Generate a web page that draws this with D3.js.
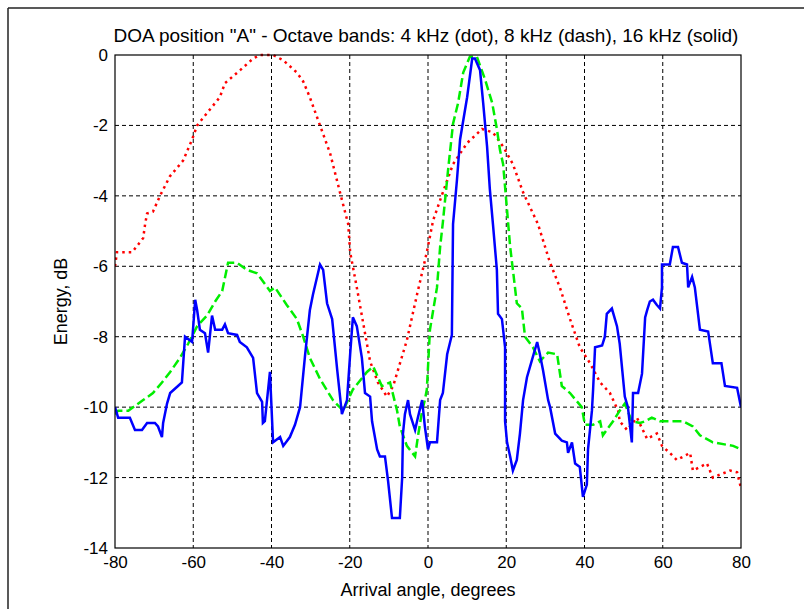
<!DOCTYPE html>
<html>
<head>
<meta charset="utf-8">
<script src="https://cdn.jsdelivr.net/npm/d3@7"></script>
<style>
  html, body { margin: 0; padding: 0; background: #fff; }
  svg { display: block; }
  text { font-family: "Liberation Sans", Arial, sans-serif; fill: #000; }
</style>
</head>
<body>
<svg id="chart" width="804" height="609"></svg>
<script>
// ---- Data ----
const title = 'DOA position "A" - Octave bands: 4 kHz (dot), 8 kHz (dash), 16 kHz (solid)';
const xLabel = "Arrival angle, degrees";
const yLabel = "Energy, dB";
const xTicks = [-80, -60, -40, -20, 0, 20, 40, 60, 80];
const yTicks = [0, -2, -4, -6, -8, -10, -12, -14];

// 4 kHz (dotted, red)
const angle4k = [-80, -79.5, -75.6, -72.8, -72.3, -71.8, -70.3, -68.5, -66, -62.6, -60.3, -59, -56.5, -53.2, -51.9, -48, -44.7, -42.9, -39.6, -37, -33.5, -31.9, -30.2, -27.6, -25, -22.5, -20.4, -19.9, -18.2, -16.1, -14.8, -12.8, -10.5, -8.9, -5.4, -2.8, -0.3, 1.3, 3.8, 6.4, 10, 13.8, 16.6, 19.2, 21.7, 24.3, 28.1, 31.2, 33.7, 36.3, 38.8, 41.4, 44, 46.5, 48.6, 49, 50.9, 53.4, 56, 58.5, 59.8, 61.8, 63.6, 67, 67.7, 71.3, 72.8, 77.2, 79, 80];
const energy4k = [-6.0, -5.6, -5.6, -5.2, -4.8, -4.5, -4.45, -4.0, -3.45, -3.0, -2.4, -2.0, -1.65, -1.2, -0.8, -0.43, -0.1, 0, 0, -0.15, -0.5, -0.75, -1.2, -2.0, -2.8, -3.9, -4.8, -5.6, -6.6, -7.9, -8.7, -9.3, -9.7, -9.4, -8.1, -6.8, -5.6, -4.7, -3.9, -3.1, -2.5, -2.1, -2.2, -2.6, -3.1, -3.9, -4.8, -5.9, -6.6, -7.5, -8.3, -8.75, -9.3, -9.6, -10.1, -10.4, -10.65, -10.3, -10.9, -10.75, -11.1, -11.3, -11.5, -11.3, -11.8, -11.6, -12.0, -11.8, -11.85, -12.3];

// 8 kHz (dashed, green)
const angle8k = [-80, -79.2, -76.6, -72.8, -70.3, -68, -65.9, -63.4, -61.3, -59, -56.5, -54.4, -52.6, -51.1, -48.8, -46.3, -43.7, -40.4, -39.1, -36.1, -33.5, -31.9, -30.2, -27.6, -24.3, -21.7, -19.2, -15.6, -14, -11.8, -9.7, -7.9, -7.2, -5.4, -3.3, -2.6, -1.5, -0.8, -0.3, 0.5, 2.3, 3.1, 3.8, 5.1, 6.4, 7.7, 9, 10.7, 12.5, 14.6, 16.4, 17.6, 18.4, 19.2, 20.2, 21, 21.7, 22.7, 24, 24.8, 26.8, 28.6, 30.7, 33, 34.2, 36.3, 39.3, 40.1, 42.2, 44, 44.7, 47.3, 49, 50.3, 52.1, 54.2, 55.5, 57.2, 59.3, 61.8, 65.2, 67.7, 69.5, 72.8, 78, 80];
const energy8k = [-10.2, -10.1, -10.1, -9.8, -9.6, -9.3, -9.0, -8.6, -8.2, -7.7, -7.4, -7.0, -6.7, -5.9, -5.9, -6.1, -6.2, -6.7, -6.6, -7.1, -7.5, -8.0, -8.6, -9.2, -9.8, -10.1, -9.5, -9.0, -8.85, -9.4, -9.3, -10.1, -10.55, -11.1, -11.4, -10.85, -10.1, -9.8, -9.5, -7.8, -6.6, -5.45, -4.75, -3.3, -1.95, -1.36, -0.5, -0.05, -0.05, -0.7, -1.36, -2.1, -2.7, -3.1, -4.4, -5.45, -6.1, -7.05, -7.2, -8.0, -8.3, -8.7, -8.45, -8.5, -9.4, -9.6, -10.0, -10.5, -10.5, -10.4, -10.8, -10.4, -10.1, -9.9, -10.4, -10.45, -10.4, -10.3, -10.4, -10.4, -10.4, -10.55, -10.8, -11.0, -11.1, -11.2];

// 16 kHz (solid, blue)
const angle16k = [-80, -79.2, -76.2, -74.9, -73.1, -71.8, -69.8, -69, -68, -67.7, -66.7, -65.9, -63.9, -62.9, -62.1, -60.3, -59.5, -59, -58.3, -57, -56.2, -55.2, -54.4, -52.6, -51.9, -51.1, -48.8, -48.1, -46.3, -44.7, -43.7, -42.4, -42.2, -41.7, -40.4, -39.6, -37.8, -37, -35.3, -34, -32.7, -31.4, -30.2, -29.4, -27.6, -26.8, -25.8, -24.5, -23.2, -22, -20.7, -19.9, -19.2, -18.2, -16.9, -16.1, -14.8, -14.3, -13, -12.3, -11, -10.2, -9.2, -7.2, -6.6, -6.4, -5.9, -5.1, -4.6, -3.3, -2.6, -1.5, -0.8, 0, 0.5, 2.3, 3.1, 3.8, 4.9, 6.1, 6.4, 7.4, 8.2, 10, 11.3, 12, 13.3, 14.1, 15.1, 15.8, 16.6, 17.6, 17.9, 18.9, 19.7, 19.7, 20.2, 21, 21.7, 22.7, 23.5, 24.3, 25.3, 26.6, 27.9, 28.6, 29.4, 30.7, 31.2, 32.5, 34.2, 35.5, 35.8, 36.8, 37.6, 38.8, 39.6, 40.6, 40.9, 41.9, 42.2, 42.7, 44.5, 45.2, 45.7, 47, 48.3, 49, 50.3, 51.1, 52.1, 52.4, 53.7, 54.7, 55.5, 56, 56.7, 57.5, 58.5, 59.3, 59.8, 59.8, 61.8, 62.6, 63.9, 64.9, 66.2, 66.5, 67.5, 68.2, 69.5, 71.6, 72.8, 75, 75.9, 79, 80];
const energy16k = [-10.0, -10.3, -10.3, -10.65, -10.65, -10.45, -10.45, -10.55, -10.85, -10.45, -9.9, -9.6, -9.4, -9.3, -8.0, -8.15, -6.95, -7.25, -7.8, -7.9, -8.45, -7.4, -7.8, -7.8, -7.65, -7.9, -7.95, -8.15, -8.3, -8.6, -9.6, -9.85, -10.45, -10.4, -9.0, -11.0, -10.85, -11.1, -10.85, -10.5, -10.0, -8.5, -7.25, -6.8, -5.95, -6.1, -7.05, -7.5, -8.95, -10.2, -9.8, -8.5, -7.45, -7.7, -8.6, -9.6, -9.7, -10.4, -11.2, -11.4, -11.4, -12.1, -13.15, -13.15, -12.0, -10.75, -10.2, -9.8, -10.2, -10.65, -10.3, -9.8, -10.55, -11.2, -11.0, -11.0, -9.8, -9.6, -8.5, -7.95, -4.8, -3.55, -2.4, -1.2, -0.1, -0.1, -0.43, -1.36, -2.6, -3.8, -4.8, -6.1, -7.35, -7.5, -8.3, -10.4, -11.0, -11.4, -11.8, -11.5, -10.75, -9.8, -9.15, -8.65, -8.15, -8.5, -8.95, -9.8, -10.0, -10.75, -10.95, -11.0, -11.3, -11.0, -11.6, -11.7, -12.55, -12.2, -11.2, -10.1, -9.5, -8.3, -8.25, -8.0, -7.35, -7.2, -7.7, -8.2, -9.7, -10.0, -11.0, -9.6, -9.6, -9.05, -7.45, -7.25, -7.0, -6.95, -7.1, -7.2, -6.6, -5.95, -5.95, -5.45, -5.45, -5.9, -5.95, -6.6, -6.3, -6.6, -7.8, -7.85, -8.75, -8.75, -9.4, -9.45, -10.0];

// ---- Drawing ----
const svg = d3.select("#chart");
const margin = { left: 115, right: 63, top: 55, bottom: 61 };
const W = 804, H = 609;
const x = d3.scaleLinear().domain([-80, 80]).range([margin.left, W - margin.right]);
const y = d3.scaleLinear().domain([-14, 0]).range([H - margin.bottom, margin.top]);

// outer frame (top and left edges)
svg.append("line").attr("x1", 8).attr("x2", W).attr("y1", 8).attr("y2", 8)
  .attr("stroke", "#222").attr("stroke-width", 1.5);
svg.append("line").attr("x1", 8).attr("x2", 8).attr("y1", 8).attr("y2", H)
  .attr("stroke", "#222").attr("stroke-width", 1.5);

// grid
const grid = svg.append("g");
grid.selectAll("line.vx").data(xTicks.slice(1, -1)).join("line")
  .attr("x1", d => x(d)).attr("x2", d => x(d))
  .attr("y1", y(0)).attr("y2", y(-14))
  .attr("stroke", "#000").attr("stroke-width", 1).attr("stroke-dasharray", "4,3");
grid.selectAll("line.hy").data(yTicks.slice(1, -1)).join("line")
  .attr("x1", x(-80)).attr("x2", x(80))
  .attr("y1", d => y(d)).attr("y2", d => y(d))
  .attr("stroke", "#000").attr("stroke-width", 1).attr("stroke-dasharray", "4,3");

// axes
const fmt = d => String(d);
const xAxis = d3.axisBottom(x).tickValues(xTicks).tickSize(0).tickPadding(6).tickFormat(fmt);
const yAxis = d3.axisLeft(y).tickValues(yTicks).tickSize(0).tickPadding(7).tickFormat(fmt);
const gx = svg.append("g").attr("transform", `translate(0,${y(-14)})`).call(xAxis);
const gy = svg.append("g").attr("transform", `translate(${x(-80)},0)`).call(yAxis);
[gx, gy].forEach(g => {
  g.select(".domain").remove();
  g.selectAll("text").style("font-size", "17px").style("font-family", '"Liberation Sans", Arial, sans-serif');
});
gx.selectAll("text").attr("dy", "0.85em");

// series
svg.append("clipPath").attr("id", "clip").append("rect")
  .attr("x", x(-80)).attr("y", y(0) - 2).attr("width", x(80) - x(-80)).attr("height", y(-14) - y(0) + 2);
const lineGen = d3.line().x(d => x(d[0])).y(d => y(d[1]));
const series = [
  { a: angle4k, e: energy4k, color: "#ff0000", dash: "2.5,4", w: 2.5 },
  { a: angle8k, e: energy8k, color: "#00ee00", dash: "9,4", w: 2.5 },
  { a: angle16k, e: energy16k, color: "#0000ff", dash: null, w: 2.5 }
];
const gs = svg.append("g").attr("clip-path", "url(#clip)");
series.forEach(s => {
  gs.append("path").datum(s.a.map((v, i) => [v, s.e[i]]))
    .attr("d", lineGen)
    .attr("fill", "none")
    .attr("stroke", s.color)
    .attr("stroke-width", s.w)
    .attr("stroke-dasharray", s.dash)
    .attr("stroke-linejoin", "miter");
});

// axis box
svg.append("rect").attr("x", x(-80)).attr("y", y(0))
  .attr("width", x(80) - x(-80)).attr("height", y(-14) - y(0))
  .attr("fill", "none").attr("stroke", "#000").attr("stroke-width", 1.2);

// labels
svg.append("text").attr("x", (x(-80) + x(80)) / 2 - 2).attr("y", 42)
  .attr("text-anchor", "middle").style("font-size", "19px").text(title);
svg.append("text").attr("x", (x(-80) + x(80)) / 2).attr("y", 596)
  .attr("text-anchor", "middle").style("font-size", "18px").text(xLabel);
svg.append("text").attr("transform", `translate(67,${(y(0) + y(-14)) / 2}) rotate(-90)`)
  .attr("text-anchor", "middle").style("font-size", "18px").text(yLabel);
</script>
</body>
</html>
